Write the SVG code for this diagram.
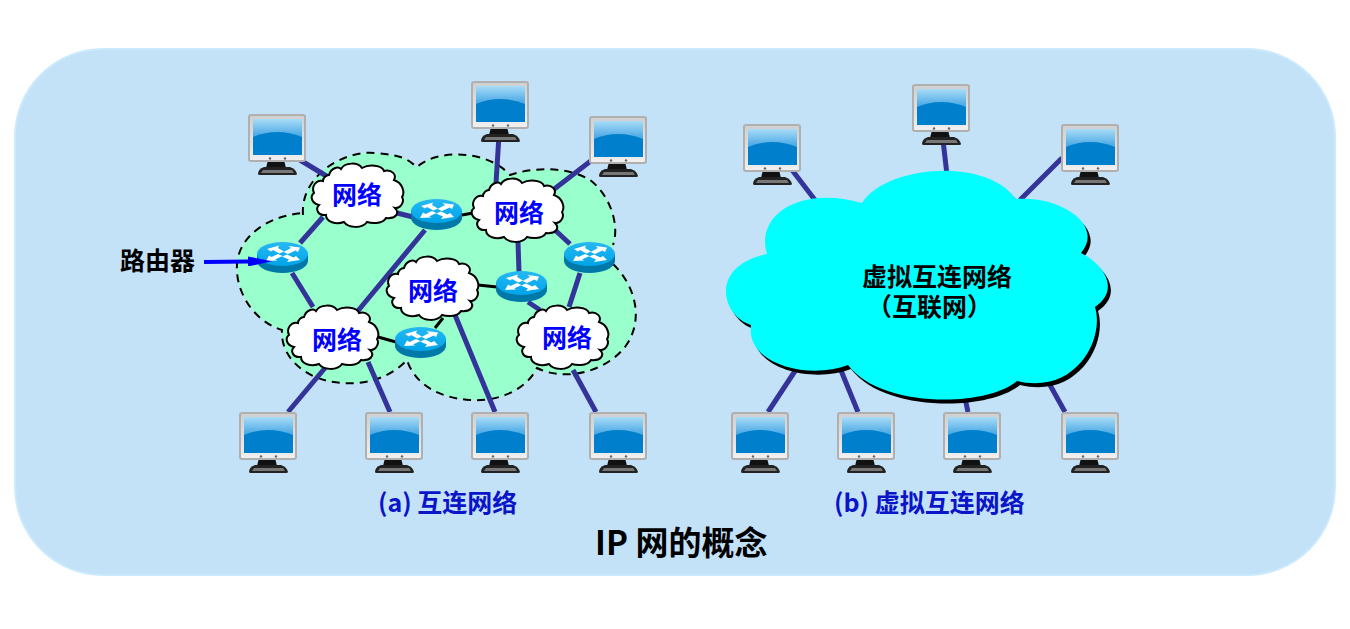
<svg xmlns="http://www.w3.org/2000/svg" xmlns:xlink="http://www.w3.org/1999/xlink" width="1350" height="629" viewBox="0 0 1350 629">
<style>
text{font-family:"Noto Sans CJK SC","Noto Sans",sans-serif;font-weight:700}
.net{font-size:25px;fill:#0000ff;text-anchor:middle}
.blk{font-size:25px;fill:#000}
.cap{font-size:25px;fill:#0a14c8}
.lnk line{stroke:#333399;stroke-width:5}
.lnk line.k{stroke:#000;stroke-width:3}
.puff{fill:#fff;stroke:#000;stroke-width:2}
</style>
<defs>
<linearGradient id="gs" x1="0" y1="0" x2="0" y2="1"><stop offset="0" stop-color="#a8dcf7"/><stop offset=".55" stop-color="#3a9fe2"/><stop offset="1" stop-color="#3a9fe2"/></linearGradient>
<linearGradient id="gf" x1="0" y1="0" x2="0" y2="1"><stop offset="0" stop-color="#cfcfcf"/><stop offset="1" stop-color="#f0f0f0"/></linearGradient>
<linearGradient id="gr" x1="0" y1="0" x2="0" y2="1"><stop offset="0" stop-color="#26b8f4"/><stop offset="1" stop-color="#00a4e8"/></linearGradient>
<symbol id="pc" width="60" height="62" viewBox="0 0 60 62" overflow="visible">
<path d="M20,46H36L38,54H18Z" fill="#111"/>
<path d="M10,60Q10,55 16,53H42Q48,55 49,60Q49,61 47,61H12Q10,61 10,60Z" fill="#222"/>
<path d="M15,56H44L46,59H13Z" fill="#777"/>
<rect x="1" y="1" width="56" height="46" rx="2" fill="url(#gf)" stroke="#b0b0b0" stroke-width="2"/>
<rect x="5" y="5" width="49" height="36" fill="url(#gs)"/>
<path d="M5,23Q29,13 54,23V41H5Z" fill="#0080cc"/>
<circle cx="22" cy="44.500" r="1.200" fill="#666"/><circle cx="37" cy="44.500" r="1.200" fill="#666"/>
</symbol>
<symbol id="rt" width="52" height="32" viewBox="0 0 52 32" overflow="visible">
<path d="M0,12V19A25.500,12 0 0 0 51,19V12Z" fill="#0078a8"/>
<ellipse cx="25.500" cy="12" rx="25.500" ry="12" fill="url(#gr)"/>
<g fill="#fff">
<path d="M10,7L22,3.500L21,6L27,9.500L22.500,11.500L16,8L14,9.500Z"/>
<path d="M43,5.500L41,10L38.500,8.500L31,12L26.500,10L34,6L31.500,4Z"/>
<path d="M9,19L12,13.500L14.500,15L21,12L25.500,14L18,17.500L20.500,18.500Z"/>
<path d="M43,18L30,20L32,17.500L25,14.500L30,12.500L36.500,15.500L39,14Z"/>
</g>
</symbol>
<symbol id="puff" width="92" height="64" viewBox="0 0 92 64" overflow="visible">
<path class="puff" d="M17,12C19,5 26,3 29,6C33,-1 46,-1 50,5C57,1 70,2 72,8C80,6 85,12 82,17C91,20 93,30 90,34C93,39 88,46 83,45C88,50 84,56 74,55C70,62 58,60 55,59C50,66 36,65 32,59C24,62 14,59 14,52C6,53 3,46 7,42C-1,40 -2,33 2,30C-1,24 4,16 11,18C11,15 14,12 17,12Z"/>
</symbol>
<path id="bigc" d="M862,203C885,166 985,156 1016,199C1060,195 1105,225 1081,253C1105,265 1120,290 1095,307C1105,340 1075,395 1017,381C985,408 880,408 848,365C810,380 745,365 751,325C720,315 710,265 767,254C755,215 800,185 862,203Z"/>
<marker id="ah" markerWidth="24" markerHeight="10" refX="0" refY="5" orient="auto" markerUnits="userSpaceOnUse"><path d="M0,0L24,5L0,10Z" fill="#0000ff"/></marker>
</defs>

<rect id="panel" x="15" y="49" width="1320" height="526" rx="88" fill="#c3e2f8" stroke="#cbeafd" stroke-width="2"/>

<g id="internet-region">
<path d="M303,215C300,175 345,150 375,153S405,158 417,167C435,150 485,148 510,175C530,168 565,165 590,180C610,195 620,225 613,245V264C635,285 645,320 625,347C605,372 565,382 537,368C525,392 495,402 470,400C440,398 415,385 407,360C390,378 365,385 343,383C310,382 280,360 282,330C250,320 232,285 238,257C245,230 275,215 303,213Z" fill="#99ffcc"/>
<path d="M303,215C300,175 345,150 375,153S405,158 417,167C435,150 485,148 510,175C530,168 565,165 590,180C610,195 620,225 613,245M613,264C635,285 645,320 625,347C605,372 565,382 537,368C525,392 495,402 470,400C440,398 415,385 407,360C390,378 365,385 343,383C310,382 280,360 282,330C250,320 232,285 238,257C245,230 275,215 303,213" fill="none" stroke="#000" stroke-width="2" stroke-dasharray="8 6"/>
</g>

<g id="connectors" class="lnk">
<line x1="300" y1="160" x2="328" y2="177"/>
<line x1="499" y1="135" x2="496" y2="183"/>
<line x1="592" y1="160" x2="553" y2="190"/>
<line x1="323" y1="217" x2="300" y2="243"/>
<line x1="292" y1="273" x2="313" y2="307"/>
<line x1="397" y1="213" x2="413" y2="217"/>
<line class="k" x1="462" y1="215" x2="473" y2="213"/>
<line x1="425" y1="230" x2="357" y2="312"/>
<line x1="518" y1="242" x2="519" y2="272"/>
<line x1="555" y1="230" x2="570" y2="244"/>
<line x1="580" y1="273" x2="569" y2="307"/>
<line x1="528" y1="302" x2="540" y2="310"/>
<line class="k" x1="478" y1="285" x2="497" y2="287"/>
<line class="k" x1="443" y1="318" x2="435" y2="328"/>
<line class="k" x1="378" y1="337" x2="396" y2="342"/>
<line x1="455" y1="315" x2="495" y2="412"/>
<line x1="325" y1="368" x2="288" y2="412"/>
<line x1="368" y1="362" x2="390" y2="412"/>
<line x1="573" y1="370" x2="596" y2="412"/>
<line x1="792" y1="170" x2="815" y2="200"/>
<line x1="943" y1="140" x2="947" y2="175"/>
<line x1="1062" y1="158" x2="1020" y2="200"/>
<line x1="797" y1="368" x2="768" y2="412"/>
<line x1="840" y1="368" x2="858" y2="412"/>
<line x1="965" y1="398" x2="968" y2="412"/>
<line x1="1050" y1="385" x2="1065" y2="412"/>
</g>

<g id="net1"><use href="#puff" x="312" y="163"/><text class="net" x="357" y="204">网络</text></g>
<g id="net2"><use href="#puff" x="472" y="178"/><text class="net" x="519" y="222">网络</text></g>
<g id="net3"><use href="#puff" x="387" y="256"/><text class="net" x="433" y="300">网络</text></g>
<g id="net4"><use href="#puff" x="287" y="305"/><text class="net" x="337" y="349">网络</text></g>
<g id="net5"><use href="#puff" x="517" y="305"/><text class="net" x="567" y="347">网络</text></g>

<g id="router1"><use href="#rt" x="257" y="242"/></g>
<g id="router2"><use href="#rt" x="411" y="199"/></g>
<g id="router3"><use href="#rt" x="564" y="242"/></g>
<g id="router4"><use href="#rt" x="496" y="271"/></g>
<g id="router5"><use href="#rt" x="395" y="327"/></g>

<g id="pc-a1"><use href="#pc" x="248" y="114"/></g>
<g id="pc-a2"><use href="#pc" x="471" y="81"/></g>
<g id="pc-a3"><use href="#pc" x="589" y="116"/></g>
<g id="pc-a4"><use href="#pc" x="239" y="412"/></g>
<g id="pc-a5"><use href="#pc" x="365" y="412"/></g>
<g id="pc-a6"><use href="#pc" x="471" y="412"/></g>
<g id="pc-a7"><use href="#pc" x="589" y="412"/></g>

<g id="virtual-net">
<use href="#bigc" x="3" y="4" fill="#000"/>
<use href="#bigc" fill="#00ffff"/>
<text class="blk"><tspan x="862" y="286">虚拟互连网络</tspan><tspan x="867" y="316">（互联网）</tspan></text>
</g>

<g id="pc-b1"><use href="#pc" x="743" y="124"/></g>
<g id="pc-b2"><use href="#pc" x="912" y="84"/></g>
<g id="pc-b3"><use href="#pc" x="1061" y="124"/></g>
<g id="pc-b4"><use href="#pc" x="731" y="412"/></g>
<g id="pc-b5"><use href="#pc" x="837" y="412"/></g>
<g id="pc-b6"><use href="#pc" x="943" y="412"/></g>
<g id="pc-b7"><use href="#pc" x="1061" y="412"/></g>

<g id="router-label">
<text class="blk" x="120" y="270">路由器</text>
<line x1="204" y1="262" x2="248" y2="261.500" stroke="#0000ff" stroke-width="4" marker-end="url(#ah)"/>
</g>

<text class="cap" x="378" y="512">(a) 互连网络</text>
<text class="cap" x="834" y="512">(b) 虚拟互连网络</text>
<text x="595" y="555" font-size="33" fill="#000">IP 网的概念</text>
</svg>
